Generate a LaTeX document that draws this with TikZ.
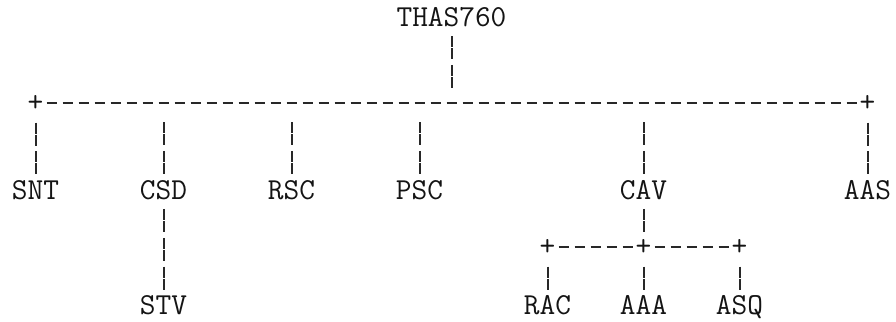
\documentclass[tikz,border=0pt]{standalone}
\usepackage{xcolor}
\usepackage{tikz}
\definecolor{inkdark}{RGB}{20, 20, 20}
\definecolor{ruledark}{RGB}{40, 40, 40}

\tikzset{
    cell/.style={inner sep=0pt, minimum width=8pt, minimum height=14.4pt,
          font=\ttfamily\fontsize{15.24pt}{14.4pt}\selectfont, text=inkdark},
    abbr/.style={cell, text height=9.3pt, text depth=0pt},
    joint/.style={cell},
    hdash/.style={draw=ruledark, line width=0.95pt,
          dash pattern=on 5.35pt off 2.65pt, dash phase=6.675pt},
    vdash/.style={draw=ruledark, line width=1pt,
          dash pattern=on 5.5pt off 0.5pt on 5.5pt off 2.9pt, dash phase=12.2pt}
}

\begin{document}
\begin{tikzpicture}[x=8pt, y=-14.4pt]
    \useasboundingbox (-1.21875,-0.59) rectangle (54.78125,10.59);

    % top unit and first level
    \node[abbr] (thas) at (27,0) {THAS760};
    \coordinate (hub) at (27,3);
    \node[joint] (pl) at (1,3) {+};
    \node[joint] (pr) at (53,3) {+};
    \node[abbr] (snt) at (1,6) {SNT};
    \node[abbr] (csd) at (9,6) {CSD};
    \node[abbr] (rsc) at (17,6) {RSC};
    \node[abbr] (psc) at (25,6) {PSC};
    \node[abbr] (cav) at (39,6) {CAV};
    \node[abbr] (aas) at (53,6) {AAS};

    % second level
    \node[abbr] (stv) at (9,10) {STV};
    \node[joint] (ql) at (33,8) {+};
    \node[joint] (qm) at (39,8) {+};
    \node[joint] (qr) at (45,8) {+};
    \node[abbr] (rac) at (33,10) {RAC};
    \node[abbr] (aaa) at (39,10) {AAA};
    \node[abbr] (asq) at (45,10) {ASQ};

    \draw[vdash, shorten >=7.2pt] (thas) -- (hub);
    \draw[hdash] (pl) -- (pr);
    \draw[vdash] (pl) -- (snt);
    \draw[vdash] (pr) -- (aas);
    \foreach \n in {csd,rsc,psc,cav}
        \draw[vdash, shorten <=7.2pt] (\n |- pl) -- (\n);

    \draw[vdash] (csd) -- (stv);
    \draw[vdash] (cav) -- (qm);
    \draw[hdash] (ql) -- (qm) -- (qr);
    \draw[vdash] (ql) -- (rac);
    \draw[vdash] (qm) -- (aaa);
    \draw[vdash] (qr) -- (asq);
\end{tikzpicture}
\end{document}
